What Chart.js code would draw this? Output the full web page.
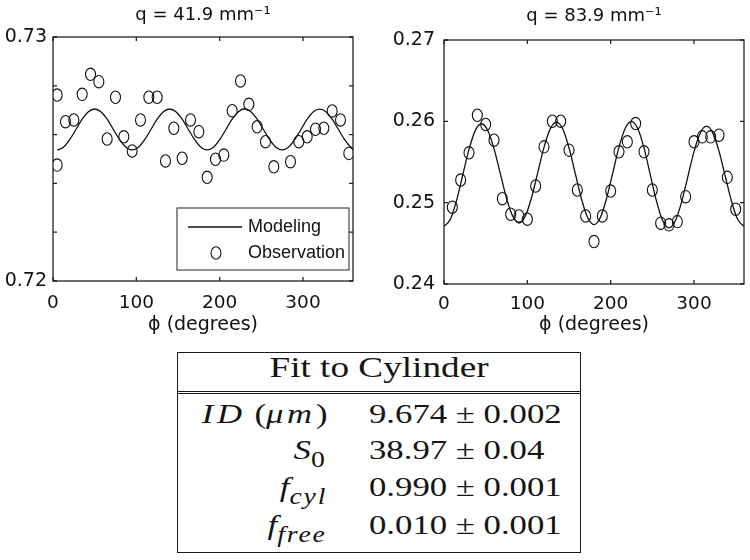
<!DOCTYPE html>
<html>
<head>
<meta charset="utf-8">
<script src="https://cdn.jsdelivr.net/npm/chart.js@4.4.1/dist/chart.umd.min.js"></script>
<style>
html,body{margin:0;padding:0;background:#fff;width:750px;height:560px;overflow:hidden}
.wrap{position:absolute;top:0;width:375px;height:340px}
#w1{left:0}
#w2{left:375px}
#tbl{position:absolute;left:177px;top:352px;width:402px;height:199px;border:1.4px solid #1a1a1a;font-family:"Liberation Serif","DejaVu Serif",serif;color:#151515}
.hdr{position:absolute;left:0;right:0;top:-4px;line-height:36px;font-size:30px;text-align:center;transform:scaleX(1.24);white-space:nowrap}
.dbl{position:absolute;left:0;right:0;top:38px;height:1px;border-top:1px solid #1a1a1a;border-bottom:1px solid #1a1a1a}
.lab{position:absolute;right:253px;line-height:36px;font-size:28px;white-space:nowrap;text-align:right;transform:scaleX(1.24);transform-origin:right center}
.val{position:absolute;left:191px;line-height:36px;font-size:28px;white-space:nowrap;transform:scaleX(1.24);transform-origin:left center}
.lab sub{font-size:0.8em;vertical-align:-0.36em;line-height:0;letter-spacing:1.5px}
.lab .wide{letter-spacing:3px}
</style>
</head>
<body>
<div class="wrap" id="w1"><canvas id="c1" width="375" height="340"></canvas></div>
<div class="wrap" id="w2"><canvas id="c2" width="375" height="340"></canvas></div>
<div id="tbl"></div>
<script>
// ---------- data ----------
const leftTitle = 'q = 41.9 mm\u207B\u00B9';
const rightTitle = 'q = 83.9 mm\u207B\u00B9';
const xAxisTitle = '\u03D5 (degrees)';
const seriesLabels = ['Modeling', 'Observation'];

const leftObsPhi = [5,5,15,25,35,45,55,65,75,85,95,105,115,125,135,145,155,165,175,185,195,205,215,225,235,245,255,265,285,295,305,315,325,335,345,355];
const leftObs = [0.72762,0.72475,0.72653,0.72660,0.72765,0.72847,0.72817,0.72582,0.72753,0.72591,0.72533,0.72660,0.72753,0.72753,0.72492,0.72626,0.72503,0.72660,0.72612,0.72425,0.72499,0.72516,0.72698,0.72820,0.72724,0.72632,0.72571,0.72468,0.72489,0.72571,0.72591,0.72622,0.72626,0.72697,0.72660,0.72523];

const leftModelPhi = [5,12.5,20,27.5,35,42.5,50,57.5,65,72.5,80,87.5,95,102.5,110,117.5,125,132.5,140,147.5,155,162.5,170,177.5,185,192.5,200,207.5,215,222.5,230,237.5,245,252.5,260,267.5,275,282.5,290,297.5,305,312.5,320,327.5,335,342.5,350,357.5,365];
const leftModel = [0.72537,0.72548,0.72579,0.72621,0.72663,0.72694,0.72705,0.72694,0.72663,0.72621,0.72579,0.72548,
                   0.72537,0.72548,0.72579,0.72621,0.72663,0.72694,0.72705,0.72694,0.72663,0.72621,0.72579,0.72548,
                   0.72537,0.72548,0.72579,0.72621,0.72663,0.72694,0.72706,0.72694,0.72663,0.72621,0.72579,0.72548,
                   0.72537,0.72548,0.72579,0.72621,0.72663,0.72694,0.72704,0.72694,0.72663,0.72621,0.72579,0.72548,
                   0.72537];

const rightObsPhi = [10,20,30,40,50,60,70,80,90,100,110,120,130,140,150,160,170,180,190,200,210,220,230,240,250,260,270,280,290,300,310,320,330,340,350];
const rightObs = [0.24944,0.25278,0.25613,0.26075,0.25961,0.25768,0.25049,0.24858,0.24837,0.24797,0.25205,0.25686,0.26001,0.26001,0.25646,0.25156,0.24837,0.24522,0.24837,0.25143,0.25625,0.25748,0.25973,0.25625,0.25156,0.24748,0.24727,0.24767,0.25074,0.25748,0.25809,0.25809,0.25830,0.25311,0.24919];

const rightModelPhi = [0,7.5,15,22.5,30,37.5,45,52.5,60,67.5,75,82.5,90,97.5,105,112.5,120,127.5,135,142.5,150,157.5,165,172.5,180,187.5,195,202.5,210,217.5,225,232.5,240,247.5,255,262.5,270,277.5,285,292.5,300,307.5,315,322.5,330,337.5,345,352.5,360];
const rightModel = [0.2471,0.24794,0.25025,0.2534,0.25655,0.25886,0.2597,0.25888,0.25665,0.2536,0.25055,0.24832,
                    0.2475,0.24833,0.2506,0.2537,0.2568,0.25907,0.2599,0.25906,0.25675,0.2536,0.25045,0.24814,
                    0.2473,0.24815,0.25048,0.25365,0.25683,0.25915,0.2600,0.25912,0.25673,0.25345,0.25018,0.24778,
                    0.2469,0.24774,0.25003,0.25315,0.25628,0.25856,0.2594,0.25858,0.25633,0.25325,0.25018,0.24792,
                    0.2471];

const leftYTickLabels = ['0.72', '0.73'];
const rightYTickLabels = ['0.24', '0.25', '0.26', '0.27'];

const tableTitle = 'Fit to Cylinder';
const tableLabels = ['<i class="wide">ID</i>&nbsp;(<i class="wide">\u03BCm</i>)', '<i>S</i><sub>0</sub>', '<i>f</i><sub><i>cyl</i></sub>', '<i>f</i><sub><i>free</i></sub>'];
const tableValues = ['9.674 \u00B1 0.002', '38.97 \u00B1 0.04', '0.990 \u00B1 0.001', '0.010 \u00B1 0.001'];

// ---------- table ----------
(function(){
  const t = document.getElementById('tbl');
  let h = '<div class="hdr">' + tableTitle + '</div><div class="dbl"></div>';
  const tops = [43, 79, 116, 154];
  tableLabels.forEach((l, i) => {
    h += '<div class="lab" style="top:' + tops[i] + 'px">' + l + '</div>';
    h += '<div class="val" style="top:' + tops[i] + 'px">' + tableValues[i] + '</div>';
  });
  t.innerHTML = h;
})();

// ---------- charts ----------
const FONT = "'DejaVu Sans', 'Liberation Sans', sans-serif";
const LFONT = "'Liberation Sans', Arial, sans-serif";
const INK = '#111';
const RX = 5.0, RY = 6.2;

function ring(ctx, x, y) {
  ctx.beginPath();
  ctx.ellipse(x, y, RX, RY, 0, 0, Math.PI * 2);
  ctx.stroke();
}

const framePlugin = {
  id: 'frame',
  afterDatasetsDraw(chart) {
    const {ctx, chartArea: a} = chart;
    ctx.save();
    ctx.beginPath(); ctx.rect(a.left, a.top, a.right - a.left, a.bottom - a.top); ctx.clip();
    ctx.strokeStyle = INK; ctx.lineWidth = 1.1;
    chart.data.datasets.forEach((ds, i) => {
      if (!ds.ring) return;
      chart.getDatasetMeta(i).data.forEach(el => ring(ctx, el.x, el.y));
    });
    ctx.restore();
  },
  afterDraw(chart, args, opts) {
    const {ctx, chartArea: a, scales: {x, y}} = chart;
    ctx.save();
    ctx.strokeStyle = '#222'; ctx.lineWidth = 1.3;
    ctx.strokeRect(a.left, a.top, a.right - a.left, a.bottom - a.top);
    const L = 4;
    ctx.beginPath();
    x.ticks.forEach(t => {
      const px = x.getPixelForValue(t.value);
      ctx.moveTo(px, a.bottom); ctx.lineTo(px, a.bottom - L);
      ctx.moveTo(px, a.top); ctx.lineTo(px, a.top + L);
    });
    y.ticks.forEach(t => {
      const py = y.getPixelForValue(t.value);
      ctx.moveTo(a.left, py); ctx.lineTo(a.left + L, py);
      ctx.moveTo(a.right, py); ctx.lineTo(a.right - L, py);
    });
    ctx.stroke();
    if (opts && opts.legend) {
      const bl = a.right - 176, bt = a.bottom - 73, bw = 172, bh = 62;
      ctx.fillStyle = '#fff';
      ctx.fillRect(bl, bt, bw, bh);
      ctx.lineWidth = 1; ctx.strokeStyle = '#222';
      ctx.strokeRect(bl, bt, bw, bh);
      ctx.strokeStyle = INK; ctx.lineWidth = 1.3;
      ctx.beginPath(); ctx.moveTo(bl + 11, bt + 19); ctx.lineTo(bl + 65, bt + 19); ctx.stroke();
      ctx.lineWidth = 1.1;
      ring(ctx, bl + 39, bt + 45);
      ctx.fillStyle = INK; ctx.font = "18px " + LFONT; ctx.textBaseline = 'middle'; ctx.textAlign = 'left';
      ctx.fillText(chart.data.datasets[0].label, bl + 71, bt + 19);
      ctx.fillText(chart.data.datasets[1].label, bl + 71, bt + 45);
    }
    ctx.restore();
  }
};

function pts(xs, ys){ return xs.map((v, i) => ({x: v, y: ys[i]})); }

function makeChart(id, cfg) {
  return new Chart(document.getElementById(id), {
    type: 'scatter',
    data: {
      datasets: [
        {label: seriesLabels[0], data: pts(cfg.mx, cfg.my), showLine: true, borderColor: INK, borderWidth: 1.3,
         pointRadius: 0, cubicInterpolationMode: 'monotone', order: 2},
        {label: seriesLabels[1], data: pts(cfg.ox, cfg.oy), showLine: false, ring: true, pointRadius: 0,
         pointHoverRadius: 0, borderColor: INK, backgroundColor: 'rgba(0,0,0,0)', order: 1}
      ]
    },
    options: {
      responsive: false, animation: false, devicePixelRatio: 1,
      layout: {padding: {top: cfg.padTop, right: cfg.padRight, left: 0, bottom: 0}},
      plugins: {
        legend: {display: false}, tooltip: {enabled: false},
        title: {display: true, text: cfg.title, fullSize: false, color: INK,
                font: {family: FONT, size: 18, weight: 'normal', lineHeight: 1.2},
                padding: {top: 0, bottom: cfg.titleGap}},
        frame: {legend: cfg.legend}
      },
      scales: {
        x: {type: 'linear', min: 0, max: 360,
            ticks: {stepSize: 100, includeBounds: false, color: INK, padding: cfg.xPad,
                    font: {family: FONT, size: 18.5}, maxRotation: 0},
            grid: {display: false, drawTicks: false}, border: {display: false},
            title: {display: true, text: xAxisTitle, color: INK, font: {family: FONT, size: 19, lineHeight: 1.2},
                    padding: {top: 0, bottom: 3.6}},
            afterFit: s => { s.height = cfg.xH; }},
        y: {type: 'linear', min: cfg.ymin, max: cfg.ymax,
            ticks: {stepSize: cfg.ystep, includeBounds: false, color: INK, padding: cfg.yPad,
                    font: {family: FONT, size: 19}, autoSkip: false,
                    callback: v => { const s = v.toFixed(2); return (Math.abs(v * 100 - Math.round(v * 100)) < 1e-6 && cfg.ylabels.includes(s)) ? s : ''; }},
            grid: {display: false, drawTicks: false}, border: {display: false},
            afterFit: s => { s.width = cfg.yW; }}
      }
    },
    plugins: [framePlugin]
  });
}

makeChart('c1', {mx: leftModelPhi, my: leftModel, ox: leftObsPhi, oy: leftObs, title: leftTitle,
  padTop: 4.2, titleGap: 11.2, padRight: 22, xH: 59, yW: 53, xPad: 10.9, yPad: 6,
  ymin: 0.72, ymax: 0.73, ystep: 0.002, ylabels: leftYTickLabels, legend: true});
makeChart('c2', {mx: rightModelPhi, my: rightModel, ox: rightObsPhi, oy: rightObs, title: rightTitle,
  padTop: 5.6, titleGap: 12.8, padRight: 6, xH: 56, yW: 69, xPad: 8.9, yPad: 9,
  ymin: 0.24, ymax: 0.27, ystep: 0.01, ylabels: rightYTickLabels, legend: false});
</script>
</body>
</html>
